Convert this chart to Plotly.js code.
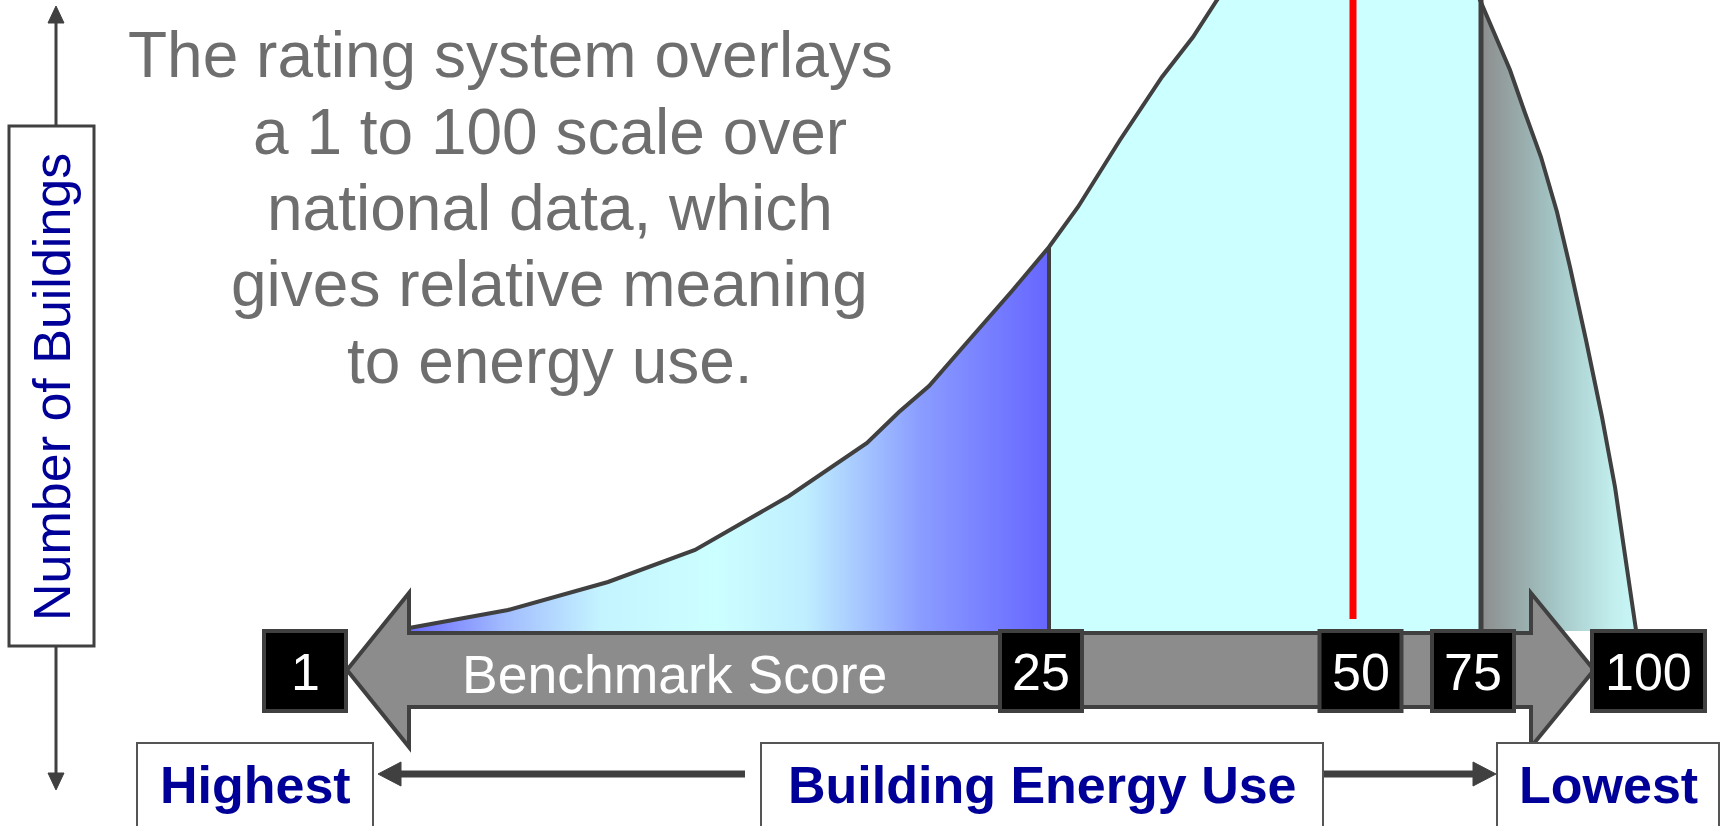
<!DOCTYPE html>
<html>
<head>
<meta charset="utf-8">
<script src="https://cdn.plot.ly/plotly-3.0.1.min.js"></script>
<style>
  html, body { margin: 0; padding: 0; background: #ffffff; }
  #chart { width: 1721px; height: 826px; }
</style>
</head>
<body>
<div id="chart"></div>
<script>
// ---------------- data ----------------
// Distribution curve: position along the score arrow vs. number of buildings (relative height)
const curvePosition = [409, 459, 508, 608, 695, 789, 867, 899, 929, 963, 1012, 1049, 1078, 1120, 1162, 1193, 1217,
                       1245, 1320, 1420, 1470, 1480,
                       1495, 1510, 1525, 1541, 1557, 1570, 1586, 1602, 1615, 1625, 1636];
const curveBuildings = [3, 12, 21, 49, 81, 135, 188, 219, 245, 284, 340, 384, 424, 491, 554, 594, 631,
                        671, 701, 691, 651, 631,
                        596, 561, 518, 474, 419, 364, 291, 214, 144, 78, 1];

// Benchmark score tick labels and where they sit along the arrow
const scoreLabels = ['1', '25', '50', '75', '100'];
const scorePositions = [305, 1041, 1360.5, 1473, 1648.5];

// Band boundaries on the curve (score 25 and score 75) and the median marker (score 50)
const band25Position = 1049;
const band75Position = 1480;
const medianPosition = 1353;

// Text
const noteLines = ['The rating system overlays', 'a 1 to 100 scale over', 'national data, which',
                   'gives relative meaning', 'to energy use.'];
const yAxisLabel = 'Number of Buildings';
const arrowLabel = 'Benchmark Score';
const energyLabels = ['Highest', 'Building Energy Use', 'Lowest'];

// ---------------- layout helpers ----------------
const W = 1721, H = 826;
const BASE = 631;                 // baseline row of the distribution
const Y = py => BASE - py;        // canvas row -> axis value
const FONT = 'Liberation Sans, Arial, Helvetica, sans-serif';
const DARK = '#404040';
const NAVY = '#000099';

function sliceBetween(lo, hi) {
  const xs = [], ys = [];
  curvePosition.forEach((x, i) => {
    if (x >= lo && x <= hi) { xs.push(x); ys.push(curveBuildings[i]); }
  });
  return { xs, ys };
}

const leftPart = sliceBetween(-Infinity, band25Position);
const midPart = sliceBetween(band25Position, band75Position);
const rightPart = sliceBetween(band75Position, Infinity);

const traces = [
  {
    x: leftPart.xs, y: leftPart.ys, type: 'scatter', mode: 'none', fill: 'tozeroy',
    fillgradient: {
      type: 'horizontal',
      colorscale: [[0, '#6b6bff'], [0.15, '#a2bcff'], [0.3, '#c4f4ff'], [0.48, '#ccffff'],
                   [0.62, '#bfeeff'], [0.8, '#8a9cff'], [1, '#6666ff']]
    },
    hoverinfo: 'skip'
  },
  {
    x: midPart.xs, y: midPart.ys, type: 'scatter', mode: 'none', fill: 'tozeroy',
    fillcolor: '#ccffff', hoverinfo: 'skip'
  },
  {
    x: rightPart.xs, y: rightPart.ys, type: 'scatter', mode: 'none', fill: 'tozeroy',
    fillgradient: {
      type: 'horizontal',
      colorscale: [[0, '#8c8c8c'], [0.45, '#a2c2c2'], [0.85, '#c2eeee'], [1, '#c8f6f6']]
    },
    hoverinfo: 'skip'
  },
  {
    x: curvePosition, y: curveBuildings, type: 'scatter', mode: 'lines',
    line: { color: DARK, width: 4 }, hoverinfo: 'skip'
  }
];

// ---------------- shapes ----------------
const shapes = [];
const P = (x, py) => x + ',' + Y(py);

// band boundaries
const h25 = curveBuildings[curvePosition.indexOf(band25Position)];
shapes.push({ type: 'line', xref: 'x', yref: 'y', x0: band25Position, x1: band25Position,
              y0: Y(633), y1: h25, line: { color: DARK, width: 4 } });
shapes.push({ type: 'line', xref: 'x', yref: 'y', x0: band75Position + 1, x1: band75Position + 1,
              y0: Y(633), y1: Y(-10), line: { color: DARK, width: 5 } });
// median (score 50) red line
shapes.push({ type: 'line', xref: 'x', yref: 'y', x0: medianPosition, x1: medianPosition,
              y0: Y(619), y1: Y(-10), line: { color: '#ff0000', width: 7 } });

// double-headed Benchmark Score arrow
shapes.push({
  type: 'path', xref: 'x', yref: 'y',
  path: 'M' + P(347, 670) + ' L' + P(409, 593) + ' L' + P(409, 633) + ' L' + P(1531, 633) +
        ' L' + P(1531, 593) + ' L' + P(1594, 670) + ' L' + P(1531, 747) + ' L' + P(1531, 707) +
        ' L' + P(409, 707) + ' L' + P(409, 747) + ' Z',
  fillcolor: '#8c8c8c', line: { color: DARK, width: 4 }
});

// score boxes
scoreLabels.forEach((lab, i) => {
  const w = lab.length === 3 ? 113 : 82;
  const cx = scorePositions[i];
  shapes.push({ type: 'rect', xref: 'x', yref: 'y', x0: cx - w / 2, x1: cx + w / 2,
                y0: Y(631), y1: Y(711), fillcolor: '#000000', line: { color: DARK, width: 4 } });
});

// y-axis style label: vertical double arrow with box
shapes.push({ type: 'line', xref: 'x', yref: 'y', x0: 56, x1: 56, y0: Y(20), y1: Y(775),
              line: { color: DARK, width: 3 } });
shapes.push({ type: 'path', xref: 'x', yref: 'y',
              path: 'M' + P(56, 6) + ' L' + P(48, 23) + ' L' + P(64, 23) + ' Z',
              fillcolor: DARK, line: { color: DARK, width: 1 } });
shapes.push({ type: 'path', xref: 'x', yref: 'y',
              path: 'M' + P(56, 790) + ' L' + P(48, 773) + ' L' + P(64, 773) + ' Z',
              fillcolor: DARK, line: { color: DARK, width: 1 } });
shapes.push({ type: 'rect', xref: 'x', yref: 'y', x0: 9, x1: 94, y0: Y(126), y1: Y(646),
              fillcolor: '#ffffff', line: { color: DARK, width: 3 } });

// bottom energy-use boxes and arrows
const energyBoxes = [[137, 373], [761, 1323], [1497, 1719]];
energyBoxes.forEach(b => {
  shapes.push({ type: 'rect', xref: 'x', yref: 'y', x0: b[0], x1: b[1], y0: Y(743), y1: Y(840),
                fillcolor: '#ffffff', line: { color: '#555555', width: 2 } });
});
shapes.push({ type: 'line', xref: 'x', yref: 'y', x0: 745, x1: 398, y0: Y(774), y1: Y(774),
              line: { color: DARK, width: 7 } });
shapes.push({ type: 'path', xref: 'x', yref: 'y',
              path: 'M' + P(378, 774) + ' L' + P(401, 762) + ' L' + P(401, 786) + ' Z',
              fillcolor: DARK, line: { color: DARK, width: 1 } });
shapes.push({ type: 'line', xref: 'x', yref: 'y', x0: 1324, x1: 1476, y0: Y(774), y1: Y(774),
              line: { color: DARK, width: 7 } });
shapes.push({ type: 'path', xref: 'x', yref: 'y',
              path: 'M' + P(1496, 774) + ' L' + P(1473, 762) + ' L' + P(1473, 786) + ' Z',
              fillcolor: DARK, line: { color: DARK, width: 1 } });

// ---------------- annotations ----------------
const annotations = [];
const noteCenters = [510, 549.5, 549.5, 549.5, 549.5];
const noteBaselines = [77, 154, 230, 306, 383];
noteLines.forEach((t, i) => {
  annotations.push({ text: t, x: noteCenters[i], y: Y(noteBaselines[i] - 22), xref: 'x', yref: 'y',
                     showarrow: false, xanchor: 'center', yanchor: 'middle',
                     font: { family: FONT, size: 64, color: '#6e6e6e' } });
});
annotations.push({ text: yAxisLabel, x: 52, y: Y(387), xref: 'x', yref: 'y', textangle: -90,
                   showarrow: false, xanchor: 'center', yanchor: 'middle',
                   font: { family: FONT, size: 52, color: NAVY } });
scoreLabels.forEach((lab, i) => {
  annotations.push({ text: lab, x: scorePositions[i], y: Y(672), xref: 'x', yref: 'y',
                     showarrow: false, xanchor: 'center', yanchor: 'middle',
                     font: { family: FONT, size: 52, color: '#ffffff' } });
});
annotations.push({ text: arrowLabel, x: 674, y: Y(674), xref: 'x', yref: 'y',
                   showarrow: false, xanchor: 'center', yanchor: 'middle',
                   font: { family: FONT, size: 53.5, color: '#ffffff' } });
energyLabels.forEach((t, i) => {
  const b = energyBoxes[i];
  annotations.push({ text: '<b>' + t + '</b>', x: (b[0] + b[1]) / 2, y: Y(785), xref: 'x', yref: 'y',
                     showarrow: false, xanchor: 'center', yanchor: 'middle',
                     font: { family: FONT, size: 52, color: NAVY } });
});

const layout = {
  width: W, height: H,
  margin: { l: 0, r: 0, t: 0, b: 0, pad: 0 },
  paper_bgcolor: '#ffffff', plot_bgcolor: '#ffffff',
  showlegend: false,
  xaxis: { range: [0, W], visible: false, fixedrange: true },
  yaxis: { range: [Y(H), Y(0)], visible: false, fixedrange: true },
  shapes: shapes,
  annotations: annotations
};

Plotly.newPlot('chart', traces, layout, { displayModeBar: false, staticPlot: true });
</script>
</body>
</html>
